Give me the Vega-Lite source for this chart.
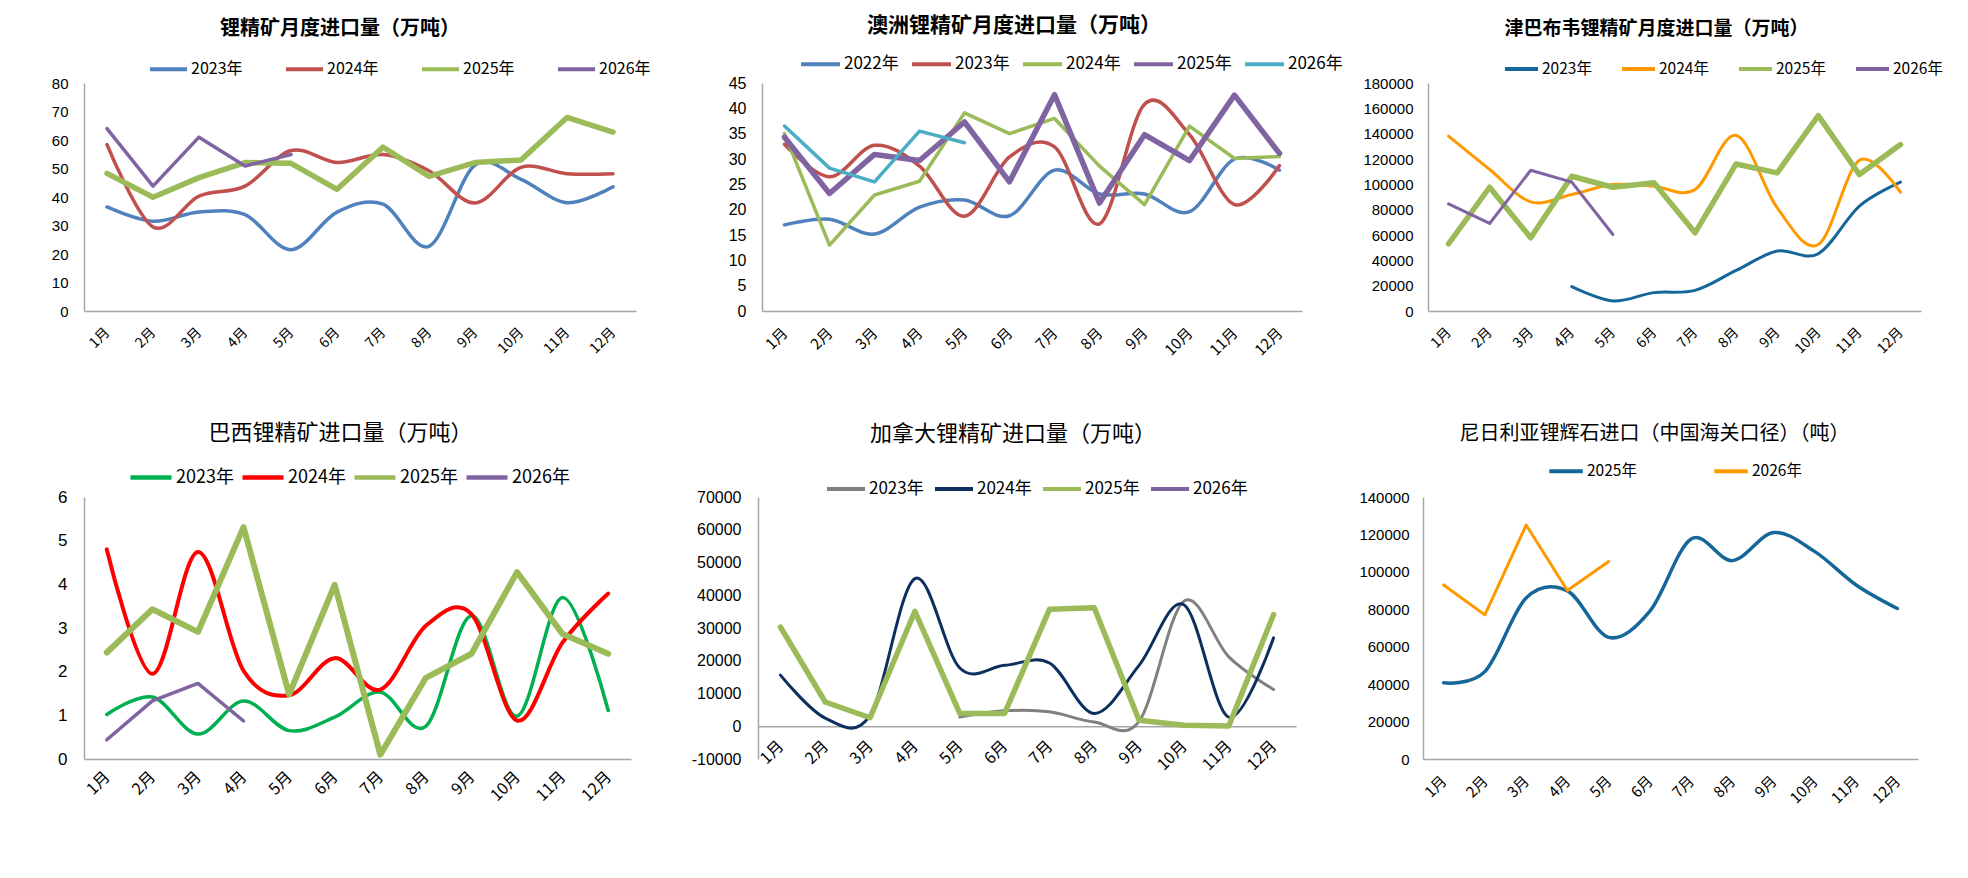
{
"$schema":"https://vega.github.io/schema/vega-lite/v6.json",
"background":"white",
"padding":{"left":51,"top":14,"right":10,"bottom":10},
"config":{"view":{"stroke":null},"line":{"strokeCap":"round","strokeJoin":"round"}},
"datasets":{
"p1":[
{"month":"1月","series":"2023年","value":36.5},{"month":"2月","series":"2023年","value":31.5},{"month":"3月","series":"2023年","value":34.7},{"month":"4月","series":"2023年","value":33.8},{"month":"5月","series":"2023年","value":21.5},{"month":"6月","series":"2023年","value":34.7},{"month":"7月","series":"2023年","value":37.5},{"month":"8月","series":"2023年","value":22.7},{"month":"9月","series":"2023年","value":51.2},{"month":"10月","series":"2023年","value":46.2},{"month":"11月","series":"2023年","value":38},{"month":"12月","series":"2023年","value":43.6},
{"month":"1月","series":"2024年","value":58.4},{"month":"2月","series":"2024年","value":29.5},{"month":"3月","series":"2024年","value":40.3},{"month":"4月","series":"2024年","value":43.8},{"month":"5月","series":"2024年","value":56.3},{"month":"6月","series":"2024年","value":52.1},{"month":"7月","series":"2024年","value":54.9},{"month":"8月","series":"2024年","value":49.2},{"month":"9月","series":"2024年","value":37.9},{"month":"10月","series":"2024年","value":50.4},{"month":"11月","series":"2024年","value":48.2},{"month":"12月","series":"2024年","value":48.2},
{"month":"1月","series":"2025年","value":48.3},{"month":"2月","series":"2025年","value":39.9},{"month":"3月","series":"2025年","value":46.8},{"month":"4月","series":"2025年","value":52.1},{"month":"5月","series":"2025年","value":51.8},{"month":"6月","series":"2025年","value":42.7},{"month":"7月","series":"2025年","value":57.5},{"month":"8月","series":"2025年","value":47.2},{"month":"9月","series":"2025年","value":52.1},{"month":"10月","series":"2025年","value":53},{"month":"11月","series":"2025年","value":67.9},{"month":"12月","series":"2025年","value":62.8},
{"month":"1月","series":"2026年","value":64},{"month":"2月","series":"2026年","value":43.8},{"month":"3月","series":"2026年","value":61},{"month":"4月","series":"2026年","value":50.9},{"month":"5月","series":"2026年","value":54.9}
],
"p2":[
{"month":"1月","series":"2022年","value":17},{"month":"2月","series":"2022年","value":18.1},{"month":"3月","series":"2022年","value":15.2},{"month":"4月","series":"2022年","value":20.5},{"month":"5月","series":"2022年","value":21.9},{"month":"6月","series":"2022年","value":18.8},{"month":"7月","series":"2022年","value":27.8},{"month":"8月","series":"2022年","value":23.1},{"month":"9月","series":"2022年","value":23.1},{"month":"10月","series":"2022年","value":19.6},{"month":"11月","series":"2022年","value":30},{"month":"12月","series":"2022年","value":27.8},
{"month":"1月","series":"2023年","value":32.9},{"month":"2月","series":"2023年","value":26.5},{"month":"3月","series":"2023年","value":32.7},{"month":"4月","series":"2023年","value":28.6},{"month":"5月","series":"2023年","value":18.7},{"month":"6月","series":"2023年","value":30.4},{"month":"7月","series":"2023年","value":32.4},{"month":"8月","series":"2023年","value":17.2},{"month":"9月","series":"2023年","value":40.8},{"month":"10月","series":"2023年","value":34.8},{"month":"11月","series":"2023年","value":21},{"month":"12月","series":"2023年","value":28.7},
{"month":"1月","series":"2024年","value":35},{"month":"2月","series":"2024年","value":13},{"month":"3月","series":"2024年","value":22.9},{"month":"4月","series":"2024年","value":25.6},{"month":"5月","series":"2024年","value":39.1},{"month":"6月","series":"2024年","value":35},{"month":"7月","series":"2024年","value":38},{"month":"8月","series":"2024年","value":28.6},{"month":"9月","series":"2024年","value":21},{"month":"10月","series":"2024年","value":36.5},{"month":"11月","series":"2024年","value":30.1},{"month":"12月","series":"2024年","value":30.5},
{"month":"1月","series":"2025年","value":34.3},{"month":"2月","series":"2025年","value":23.2},{"month":"3月","series":"2025年","value":30.9},{"month":"4月","series":"2025年","value":29.7},{"month":"5月","series":"2025年","value":37.3},{"month":"6月","series":"2025年","value":25.5},{"month":"7月","series":"2025年","value":42.7},{"month":"8月","series":"2025年","value":21.3},{"month":"9月","series":"2025年","value":34.8},{"month":"10月","series":"2025年","value":29.7},{"month":"11月","series":"2025年","value":42.6},{"month":"12月","series":"2025年","value":31.1},
{"month":"1月","series":"2026年","value":36.5},{"month":"2月","series":"2026年","value":28.2},{"month":"3月","series":"2026年","value":25.5},{"month":"4月","series":"2026年","value":35.5},{"month":"5月","series":"2026年","value":33.2}
],
"p3":[
{"month":"4月","series":"2023年","value":19200},{"month":"5月","series":"2023年","value":7900},{"month":"6月","series":"2023年","value":14500},{"month":"7月","series":"2023年","value":16300},{"month":"8月","series":"2023年","value":32000},{"month":"9月","series":"2023年","value":47300},{"month":"10月","series":"2023年","value":45200},{"month":"11月","series":"2023年","value":82800},{"month":"12月","series":"2023年","value":101700},
{"month":"1月","series":"2024年","value":138000},{"month":"2月","series":"2024年","value":111700},{"month":"3月","series":"2024年","value":86200},{"month":"4月","series":"2024年","value":92000},{"month":"5月","series":"2024年","value":99800},{"month":"6月","series":"2024年","value":98500},{"month":"7月","series":"2024年","value":95900},{"month":"8月","series":"2024年","value":138700},{"month":"9月","series":"2024年","value":81400},{"month":"10月","series":"2024年","value":52500},{"month":"11月","series":"2024年","value":119000},{"month":"12月","series":"2024年","value":93800},
{"month":"1月","series":"2025年","value":53000},{"month":"2月","series":"2025年","value":97700},{"month":"3月","series":"2025年","value":57800},{"month":"4月","series":"2025年","value":106400},{"month":"5月","series":"2025年","value":97700},{"month":"6月","series":"2025年","value":101200},{"month":"7月","series":"2025年","value":61700},{"month":"8月","series":"2025年","value":116100},{"month":"9月","series":"2025年","value":109000},{"month":"10月","series":"2025年","value":154200},{"month":"11月","series":"2025年","value":107700},{"month":"12月","series":"2025年","value":131400},
{"month":"1月","series":"2026年","value":84600},{"month":"2月","series":"2026年","value":69100},{"month":"3月","series":"2026年","value":111100},{"month":"4月","series":"2026年","value":101700},{"month":"5月","series":"2026年","value":60400}
],
"p4":[
{"month":"1月","series":"2023年","value":1.02},{"month":"2月","series":"2023年","value":1.42},{"month":"3月","series":"2023年","value":0.57},{"month":"4月","series":"2023年","value":1.33},{"month":"5月","series":"2023年","value":0.65},{"month":"6月","series":"2023年","value":0.96},{"month":"7月","series":"2023年","value":1.53},{"month":"8月","series":"2023年","value":0.75},{"month":"9月","series":"2023年","value":3.28},{"month":"10月","series":"2023年","value":0.98},{"month":"11月","series":"2023年","value":3.7},{"month":"12月","series":"2023年","value":1.11},
{"month":"1月","series":"2024年","value":4.8},{"month":"2月","series":"2024年","value":1.95},{"month":"3月","series":"2024年","value":4.74},{"month":"4月","series":"2024年","value":2.02},{"month":"5月","series":"2024年","value":1.46},{"month":"6月","series":"2024年","value":2.31},{"month":"7月","series":"2024年","value":1.59},{"month":"8月","series":"2024年","value":3.05},{"month":"9月","series":"2024年","value":3.32},{"month":"10月","series":"2024年","value":0.88},{"month":"11月","series":"2024年","value":2.67},{"month":"12月","series":"2024年","value":3.79},
{"month":"1月","series":"2025年","value":2.44},{"month":"2月","series":"2025年","value":3.43},{"month":"3月","series":"2025年","value":2.91},{"month":"4月","series":"2025年","value":5.31},{"month":"5月","series":"2025年","value":1.48},{"month":"6月","series":"2025年","value":3.99},{"month":"7月","series":"2025年","value":0.1},{"month":"8月","series":"2025年","value":1.86},{"month":"9月","series":"2025年","value":2.41},{"month":"10月","series":"2025年","value":4.28},{"month":"11月","series":"2025年","value":2.86},{"month":"12月","series":"2025年","value":2.41},
{"month":"1月","series":"2026年","value":0.44},{"month":"2月","series":"2026年","value":1.33},{"month":"3月","series":"2026年","value":1.73},{"month":"4月","series":"2026年","value":0.87}
],
"p5":[
{"month":"5月","series":"2023年","value":2800},{"month":"6月","series":"2023年","value":4700},{"month":"7月","series":"2023年","value":4400},{"month":"8月","series":"2023年","value":1300},{"month":"9月","series":"2023年","value":1500},{"month":"10月","series":"2023年","value":38200},{"month":"11月","series":"2023年","value":21200},{"month":"12月","series":"2023年","value":11200},
{"month":"1月","series":"2024年","value":15600},{"month":"2月","series":"2024年","value":2500},{"month":"3月","series":"2024年","value":3400},{"month":"4月","series":"2024年","value":45100},{"month":"5月","series":"2024年","value":17800},{"month":"6月","series":"2024年","value":18600},{"month":"7月","series":"2024年","value":19300},{"month":"8月","series":"2024年","value":3900},{"month":"9月","series":"2024年","value":18600},{"month":"10月","series":"2024年","value":37100},{"month":"11月","series":"2024年","value":2800},{"month":"12月","series":"2024年","value":27000},
{"month":"1月","series":"2025年","value":30300},{"month":"2月","series":"2025年","value":7400},{"month":"3月","series":"2025年","value":2600},{"month":"4月","series":"2025年","value":35100},{"month":"5月","series":"2025年","value":3900},{"month":"6月","series":"2025年","value":3900},{"month":"7月","series":"2025年","value":35700},{"month":"8月","series":"2025年","value":36200},{"month":"9月","series":"2025年","value":1800},{"month":"10月","series":"2025年","value":300},{"month":"11月","series":"2025年","value":100},{"month":"12月","series":"2025年","value":34100}
],
"p6":[
{"month":"1月","series":"2025年","value":40700},{"month":"2月","series":"2025年","value":46700},{"month":"3月","series":"2025年","value":86000},{"month":"4月","series":"2025年","value":89800},{"month":"5月","series":"2025年","value":65000},{"month":"6月","series":"2025年","value":79000},{"month":"7月","series":"2025年","value":117600},{"month":"8月","series":"2025年","value":106000},{"month":"9月","series":"2025年","value":121000},{"month":"10月","series":"2025年","value":110800},{"month":"11月","series":"2025年","value":93000},{"month":"12月","series":"2025年","value":80400},
{"month":"1月","series":"2026年","value":93000},{"month":"2月","series":"2026年","value":77000},{"month":"3月","series":"2026年","value":125000},{"month":"4月","series":"2026年","value":90000},{"month":"5月","series":"2026年","value":105500}
]
},
"resolve":{"scale":{"color":"independent"},"legend":{"color":"independent"}},
"vconcat":[
{"resolve":{"scale":{"color":"independent"},"legend":{"color":"independent"}},
"hconcat":[
{"width":552,"height":228,
"title":{"text":"锂精矿月度进口量（万吨）","font":"Noto Sans CJK SC","fontSize":20,"fontWeight":"bold","color":"#000","anchor":"middle","frame":"group","dx":-20,"offset":9.5},
"data":{"name":"p1"},
"encoding":{
"x":{"field":"month","type":"ordinal","scale":{"type":"point","domain":["1月","2月","3月","4月","5月","6月","7月","8月","9月","10月","11月","12月"]},"axis":{"title":null,"labelAngle":-45,"labelAlign":"right","labelBaseline":"middle","labelFont":"Noto Sans CJK SC","labelFontSize":14,"labelColor":"#000","labelPadding":19,"ticks":false,"grid":false,"domainColor":"#a6a6a6","domainWidth":1.5}},
"y":{"field":"value","type":"quantitative","scale":{"domain":[0,80],"nice":false,"zero":false},"axis":{"title":null,"values":[0,10,20,30,40,50,60,70,80],"labelExpr":"''+datum.value","labelFont":"Liberation Sans","labelFontSize":15,"labelColor":"#000","labelPadding":16,"ticks":false,"grid":false,"domainColor":"#a6a6a6","domainWidth":1.5}},
"color":{"field":"series","type":"nominal","scale":{"domain":["2023年","2024年","2025年","2026年"],"range":["#4f81bd","#c0504d","#9bbb59","#8064a2"]},"legend":{"orient":"none","legendX":64,"legendY":-34.5,"direction":"horizontal","title":null,"symbolType":"stroke","symbolSize":1369,"symbolStrokeWidth":4,"labelFont":"Noto Sans CJK SC","labelFontSize":16,"labelColor":"#000","labelOffset":2,"columnPadding":41}}
},
"layer":[
{"transform":[{"filter":{"field":"series","oneOf":["2023年","2024年"]}}],"mark":{"type":"line","interpolate":"cardinal","strokeWidth":3.5}},
{"transform":[{"filter":{"field":"series","oneOf":["2025年"]}}],"mark":{"type":"line","strokeWidth":5.5}},
{"transform":[{"filter":{"field":"series","oneOf":["2026年"]}}],"mark":{"type":"line","strokeWidth":3.5}}
]},
{"width":540,"height":228,
"title":{"text":"澳洲锂精矿月度进口量（万吨）","font":"Noto Sans CJK SC","fontSize":21,"fontWeight":"bold","color":"#000","anchor":"middle","frame":"group","dx":-18,"offset":7},
"data":{"name":"p2"},
"encoding":{
"x":{"field":"month","type":"ordinal","scale":{"type":"point","domain":["1月","2月","3月","4月","5月","6月","7月","8月","9月","10月","11月","12月"]},"axis":{"title":null,"labelAngle":-45,"labelAlign":"right","labelBaseline":"middle","labelFont":"Noto Sans CJK SC","labelFontSize":15,"labelColor":"#000","labelPadding":19,"ticks":false,"grid":false,"domainColor":"#a6a6a6","domainWidth":1.5}},
"y":{"field":"value","type":"quantitative","scale":{"domain":[0,45],"nice":false,"zero":false},"axis":{"title":null,"values":[0,5,10,15,20,25,30,35,40,45],"labelExpr":"''+datum.value","labelFont":"Liberation Sans","labelFontSize":16,"labelColor":"#000","labelPadding":16,"ticks":false,"grid":false,"domainColor":"#a6a6a6","domainWidth":1.5}},
"color":{"field":"series","type":"nominal","scale":{"domain":["2022年","2023年","2024年","2025年","2026年"],"range":["#4f81bd","#c0504d","#9bbb59","#8064a2","#4bacc6"]},"legend":{"orient":"none","legendX":37,"legendY":-40.5,"direction":"horizontal","title":null,"symbolType":"stroke","symbolSize":1521,"symbolStrokeWidth":4,"labelFont":"Noto Sans CJK SC","labelFontSize":17,"labelColor":"#000","labelOffset":2,"columnPadding":11}}
},
"layer":[
{"transform":[{"filter":{"field":"series","oneOf":["2022年","2023年"]}}],"mark":{"type":"line","interpolate":"cardinal","strokeWidth":3.5}},
{"transform":[{"filter":{"field":"series","oneOf":["2024年"]}}],"mark":{"type":"line","strokeWidth":3.5}},
{"transform":[{"filter":{"field":"series","oneOf":["2025年"]}}],"mark":{"type":"line","strokeWidth":5.5}},
{"transform":[{"filter":{"field":"series","oneOf":["2026年"]}}],"mark":{"type":"line","strokeWidth":3.5}}
]},
{"width":493,"height":228,
"title":{"text":"津巴布韦锂精矿月度进口量（万吨）","font":"Noto Sans CJK SC","fontSize":19,"fontWeight":"bold","color":"#000","anchor":"middle","frame":"group","dx":-18,"offset":11.5},
"data":{"name":"p3"},
"encoding":{
"x":{"field":"month","type":"ordinal","scale":{"type":"point","domain":["1月","2月","3月","4月","5月","6月","7月","8月","9月","10月","11月","12月"]},"axis":{"title":null,"labelAngle":-45,"labelAlign":"right","labelBaseline":"middle","labelFont":"Noto Sans CJK SC","labelFontSize":14,"labelColor":"#000","labelPadding":19,"ticks":false,"grid":false,"domainColor":"#a6a6a6","domainWidth":1.5}},
"y":{"field":"value","type":"quantitative","scale":{"domain":[0,180000],"nice":false,"zero":false},"axis":{"title":null,"values":[0,20000,40000,60000,80000,100000,120000,140000,160000,180000],"labelExpr":"''+datum.value","labelFont":"Liberation Sans","labelFontSize":15,"labelColor":"#000","labelPadding":15,"ticks":false,"grid":false,"domainColor":"#a6a6a6","domainWidth":1.5}},
"color":{"field":"series","type":"nominal","scale":{"domain":["2023年","2024年","2025年","2026年"],"range":["#15679a","#ff9900","#9bbb59","#8064a2"]},"legend":{"orient":"none","legendX":75,"legendY":-32.5,"direction":"horizontal","title":null,"symbolType":"stroke","symbolSize":1089,"symbolStrokeWidth":4,"labelFont":"Noto Sans CJK SC","labelFontSize":15.5,"labelColor":"#000","labelOffset":2,"columnPadding":28}}
},
"layer":[
{"transform":[{"filter":{"field":"series","oneOf":["2023年","2024年"]}}],"mark":{"type":"line","interpolate":"cardinal","strokeWidth":3}},
{"transform":[{"filter":{"field":"series","oneOf":["2025年"]}}],"mark":{"type":"line","strokeWidth":5.5}},
{"transform":[{"filter":{"field":"series","oneOf":["2026年"]}}],"mark":{"type":"line","strokeWidth":3}}
]}
],"spacing":126,"bounds":"flush"},
{"resolve":{"scale":{"color":"independent"},"legend":{"color":"independent"}},
"hconcat":[
{"width":547,"height":262,
"title":{"text":"巴西锂精矿进口量（万吨）","font":"Noto Sans CJK SC","fontSize":22,"fontWeight":"normal","color":"#000","anchor":"middle","frame":"group","dx":-17,"offset":9.5},
"data":{"name":"p4"},
"encoding":{
"x":{"field":"month","type":"ordinal","scale":{"type":"point","domain":["1月","2月","3月","4月","5月","6月","7月","8月","9月","10月","11月","12月"]},"axis":{"title":null,"labelAngle":-45,"labelAlign":"right","labelBaseline":"middle","labelFont":"Noto Sans CJK SC","labelFontSize":16,"labelColor":"#000","labelPadding":15,"ticks":false,"grid":false,"domainColor":"#a6a6a6","domainWidth":1.5}},
"y":{"field":"value","type":"quantitative","scale":{"domain":[0,6],"nice":false,"zero":false},"axis":{"title":null,"values":[0,1,2,3,4,5,6],"labelExpr":"''+datum.value","labelFont":"Liberation Sans","labelFontSize":17,"labelColor":"#000","labelPadding":17,"ticks":false,"grid":false,"domainColor":"#a6a6a6","domainWidth":1.5}},
"color":{"field":"series","type":"nominal","scale":{"domain":["2023年","2024年","2025年","2026年"],"range":["#00b050","#ff0000","#9bbb59","#8064a2"]},"legend":{"orient":"none","legendX":44,"legendY":-42.5,"direction":"horizontal","title":null,"symbolType":"stroke","symbolSize":1681,"symbolStrokeWidth":4.5,"labelFont":"Noto Sans CJK SC","labelFontSize":18,"labelColor":"#000","labelOffset":2,"columnPadding":6}}
},
"layer":[
{"transform":[{"filter":{"field":"series","oneOf":["2023年"]}}],"mark":{"type":"line","interpolate":"cardinal","strokeWidth":3.5}},
{"transform":[{"filter":{"field":"series","oneOf":["2024年"]}}],"mark":{"type":"line","interpolate":"cardinal","strokeWidth":4}},
{"transform":[{"filter":{"field":"series","oneOf":["2025年"]}}],"mark":{"type":"line","strokeWidth":6}},
{"transform":[{"filter":{"field":"series","oneOf":["2026年"]}}],"mark":{"type":"line","strokeWidth":3.5}}
]},
{"width":538,"height":262,
"title":{"text":"加拿大锂精矿进口量（万吨）","font":"Noto Sans CJK SC","fontSize":22,"fontWeight":"normal","color":"#000","anchor":"middle","frame":"group","dx":-14,"offset":22.5},
"data":{"name":"p5"},
"encoding":{
"x":{"field":"month","type":"ordinal","scale":{"type":"point","domain":["1月","2月","3月","4月","5月","6月","7月","8月","9月","10月","11月","12月"]},"axis":{"title":null,"offset":-32.75,"labelAngle":-45,"labelAlign":"right","labelBaseline":"middle","labelFont":"Noto Sans CJK SC","labelFontSize":16,"labelColor":"#000","labelPadding":17,"ticks":false,"grid":false,"domainColor":"#a6a6a6","domainWidth":1.5}},
"y":{"field":"value","type":"quantitative","scale":{"domain":[-10000,70000],"nice":false,"zero":false},"axis":{"title":null,"values":[-10000,0,10000,20000,30000,40000,50000,60000,70000],"labelExpr":"''+datum.value","labelFont":"Liberation Sans","labelFontSize":16,"labelColor":"#000","labelPadding":17,"ticks":false,"grid":false,"domainColor":"#a6a6a6","domainWidth":1.5}},
"color":{"field":"series","type":"nominal","scale":{"domain":["2023年","2024年","2025年","2026年"],"range":["#808080","#0d2f5e","#9bbb59","#8064a2"]},"legend":{"orient":"none","legendX":67,"legendY":-29,"direction":"horizontal","title":null,"symbolType":"stroke","symbolSize":1444,"symbolStrokeWidth":4,"labelFont":"Noto Sans CJK SC","labelFontSize":17,"labelColor":"#000","labelOffset":2,"columnPadding":9}}
},
"layer":[
{"transform":[{"filter":{"field":"series","oneOf":["2023年","2024年"]}}],"mark":{"type":"line","interpolate":"cardinal","strokeWidth":3}},
{"transform":[{"filter":{"field":"series","oneOf":["2025年","2026年"]}}],"mark":{"type":"line","strokeWidth":5.5}}
]},
{"width":495,"height":262,
"title":{"text":"尼日利亚锂辉石进口（中国海关口径）（吨）","font":"Noto Sans CJK SC","fontSize":20,"fontWeight":"normal","color":"#000","anchor":"middle","frame":"group","dx":-16,"offset":8.5},
"data":{"name":"p6"},
"encoding":{
"x":{"field":"month","type":"ordinal","scale":{"type":"point","domain":["1月","2月","3月","4月","5月","6月","7月","8月","9月","10月","11月","12月"]},"axis":{"title":null,"labelAngle":-45,"labelAlign":"right","labelBaseline":"middle","labelFont":"Noto Sans CJK SC","labelFontSize":15,"labelColor":"#000","labelPadding":19,"ticks":false,"grid":false,"domainColor":"#a6a6a6","domainWidth":1.5}},
"y":{"field":"value","type":"quantitative","scale":{"domain":[0,140000],"nice":false,"zero":false},"axis":{"title":null,"values":[0,20000,40000,60000,80000,100000,120000,140000],"labelExpr":"''+datum.value","labelFont":"Liberation Sans","labelFontSize":15,"labelColor":"#000","labelPadding":14,"ticks":false,"grid":false,"domainColor":"#a6a6a6","domainWidth":1.5}},
"color":{"field":"series","type":"nominal","scale":{"domain":["2025年","2026年"],"range":["#15679a","#ff9900"]},"legend":{"orient":"none","legendX":124,"legendY":-45,"direction":"horizontal","title":null,"symbolType":"stroke","symbolSize":1122,"symbolStrokeWidth":4,"labelFont":"Noto Sans CJK SC","labelFontSize":15.5,"labelColor":"#000","labelOffset":2,"columnPadding":75}}
},
"layer":[
{"transform":[{"filter":{"field":"series","oneOf":["2025年"]}}],"mark":{"type":"line","interpolate":"cardinal","strokeWidth":3.5}},
{"transform":[{"filter":{"field":"series","oneOf":["2026年"]}}],"mark":{"type":"line","strokeWidth":3}}
]}
],"spacing":127,"bounds":"flush"}
],"spacing":414,"bounds":"flush"
}
